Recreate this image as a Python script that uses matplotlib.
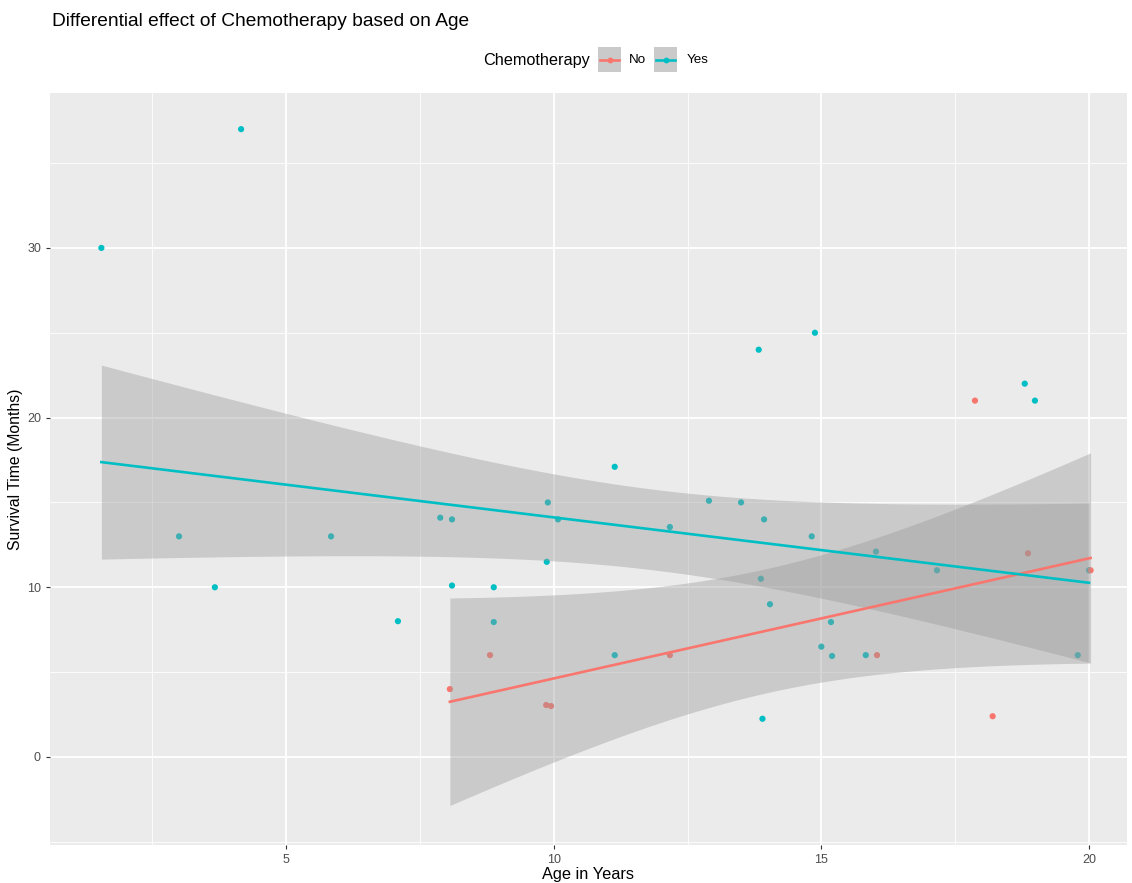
import math
import numpy as np
import matplotlib
matplotlib.use("Agg")
import matplotlib.pyplot as plt
from matplotlib.ticker import MultipleLocator

# ---------------- data ----------------
yes_age = [1.55, 4.16, 3.0, 3.67, 5.84, 7.09, 7.88, 8.10, 8.10, 8.88, 8.88, 9.89, 9.87,
           10.08, 11.14, 11.14, 12.17, 12.9, 13.5, 13.83, 13.93, 13.87, 14.04, 13.9,
           14.88, 14.82, 15.0, 15.18, 15.2, 15.83, 16.02, 17.16, 18.8, 18.99, 19.79, 20.0]
yes_surv = [30.0, 37.0, 13.0, 10.0, 13.0, 8.0, 14.1, 14.0, 10.1, 10.0, 7.95, 15.0, 11.5,
            14.0, 17.1, 6.0, 13.55, 15.1, 15.0, 24.0, 14.0, 10.5, 9.0, 2.25,
            25.0, 13.0, 6.5, 7.95, 5.95, 6.0, 12.1, 11.0, 22.0, 21.0, 6.0, 11.0]
no_age = [8.06, 8.81, 9.86, 9.95, 12.17, 16.04, 17.87, 18.2, 18.86, 20.03]
no_surv = [4.0, 6.0, 3.06, 3.0, 6.0, 6.0, 21.0, 2.4, 12.0, 11.0]

groups = ["No", "Yes"]
colors = {"No": "#F8766D", "Yes": "#00BFC4"}
x_ticks = [5, 10, 15, 20]
y_ticks = [0, 10, 20, 30]

data = {"No": (np.array(no_age), np.array(no_surv)),
        "Yes": (np.array(yes_age), np.array(yes_surv))}


def t_quantile(p, df):
    c = math.exp(math.lgamma((df + 1) / 2) - math.lgamma(df / 2)) / math.sqrt(df * math.pi)

    def cdf(t):
        g = np.linspace(0, t, 4001)
        f = c * (1 + g ** 2 / df) ** (-(df + 1) / 2)
        return 0.5 + np.trapezoid(f, g)

    lo, hi = 0.0, 20.0
    for _ in range(60):
        mid = (lo + hi) / 2
        if cdf(mid) < p:
            lo = mid
        else:
            hi = mid
    return (lo + hi) / 2


def lm_fit(x, y, n_out=80):
    n = len(x)
    b1, b0 = np.polyfit(x, y, 1)
    resid = y - (b0 + b1 * x)
    s = math.sqrt(np.sum(resid ** 2) / (n - 2))
    xm = x.mean()
    sxx = np.sum((x - xm) ** 2)
    xs = np.linspace(x.min(), x.max(), n_out)
    fit = b0 + b1 * xs
    se = s * np.sqrt(1 / n + (xs - xm) ** 2 / sxx)
    tq = t_quantile(0.975, n - 2)
    return xs, fit, fit - tq * se, fit + tq * se


# ---------------- figure ----------------
W, H = 1132, 883
fig = plt.figure(figsize=(W / 100, H / 100), dpi=100)
fig.patch.set_facecolor("white")
ax = fig.add_axes([50 / W, 1 - 845 / H, 1077 / W, (845 - 93) / H])
ax.set_facecolor("#EBEBEB")
for sp in ax.spines.values():
    sp.set_visible(False)

ax.set_xlim(0.59, 20.71)
ax.set_ylim(-5.19, 39.13)
ax.xaxis.set_major_locator(MultipleLocator(5))
ax.xaxis.set_minor_locator(MultipleLocator(2.5))
ax.yaxis.set_major_locator(MultipleLocator(10))
ax.yaxis.set_minor_locator(MultipleLocator(5))
ax.set_xticks(x_ticks)
ax.set_yticks(y_ticks)
ax.grid(which="major", color="white", linewidth=1.3)
ax.grid(which="minor", color="white", linewidth=0.6)
ax.set_axisbelow(True)
ax.tick_params(which="minor", length=0)
ax.tick_params(which="major", length=3, width=0.8, color="#333333",
               labelcolor="#4D4D4D", labelsize=9)
for lab in ax.get_xticklabels() + ax.get_yticklabels():
    lab.set_family("Liberation Sans")

# points (drawn first so ribbons overlay them as in ggplot)
for g in ["Yes", "No"]:
    x, y = data[g]
    ax.scatter(x, y, s=20, color=colors[g], edgecolors="none", zorder=2)

for g in groups:
    x, y = data[g]
    xs, fit, lo, hi = lm_fit(x, y)
    ax.fill_between(xs, lo, hi, color="#999999", alpha=0.4, linewidth=0, zorder=3)
    ax.plot(xs, fit, color=colors[g], linewidth=1.9, zorder=4)

ax.set_xlabel("Age in Years", family="Liberation Sans", fontsize=11.8, labelpad=0.5)
ax.set_ylabel("Survival Time (Months)", family="Liberation Sans", fontsize=11.3, labelpad=3)

fig.text(52 / W, 1 - 22 / H, "Differential effect of Chemotherapy based on Age",
         family="Liberation Sans", fontsize=13.8, va="center", ha="left")

# legend (manual, ggplot style: title on the left)
ly = 1 - 60 / H
fig.text(483 / W, ly, "Chemotherapy", family="Liberation Sans", fontsize=11.7,
         va="center", ha="left")
key_pos = {"No": 598, "Yes": 654}
label_pos = {"No": 629, "Yes": 687}
for g in groups:
    kx = key_pos[g]
    kax = fig.add_axes([kx / W, 1 - 72 / H, 23 / W, 25 / H])
    kax.set_facecolor("#CACACA")
    kax.set_xlim(0, 1)
    kax.set_ylim(0, 1)
    kax.plot([0.08, 0.92], [0.5, 0.5], color=colors[g], linewidth=1.9)
    kax.plot([0.5], [0.5], "o", color=colors[g], markersize=4.2, markeredgewidth=0)
    kax.set_xticks([])
    kax.set_yticks([])
    for sp in kax.spines.values():
        sp.set_visible(False)
    fig.text(label_pos[g] / W, ly, g, family="Liberation Sans", fontsize=9.6,
             va="center", ha="left")

fig.savefig("out.png", dpi=100)
